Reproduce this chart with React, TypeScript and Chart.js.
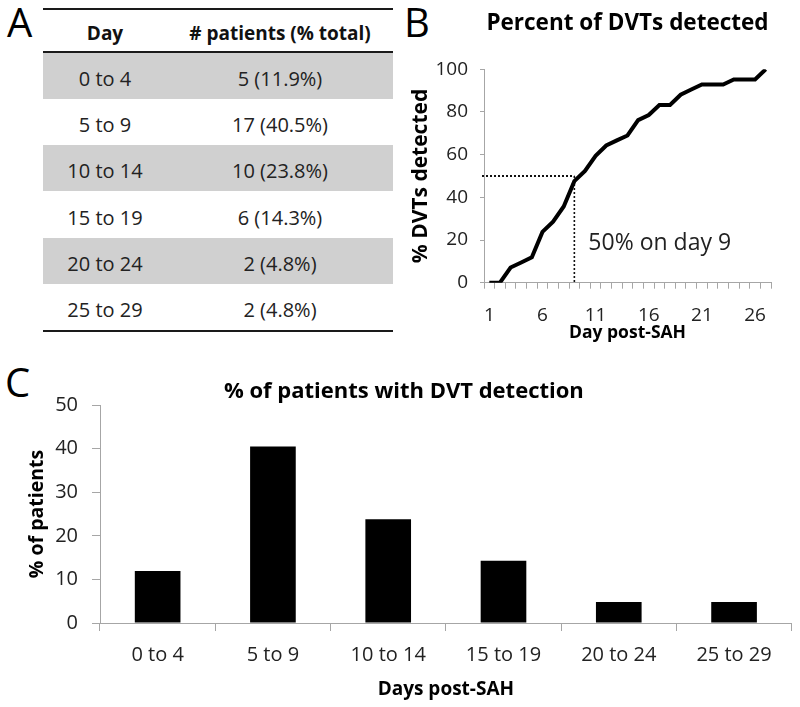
import React, { useEffect, useRef } from 'react';
import { Chart, registerables } from 'chart.js';

Chart.register(...registerables);

const FONT = "'Open Sans', sans-serif";
Chart.defaults.font.family = FONT;

// ---- Data ----
const dayRanges = ['0 to 4', '5 to 9', '10 to 14', '15 to 19', '20 to 24', '25 to 29'];
const patientCounts = [5, 17, 10, 6, 2, 2];
const patientPercents = [11.9, 40.5, 23.8, 14.3, 4.8, 4.8];
const tableHeaders = ['Day', '# patients (% total)'];

const dayCategories = ['1', '2', '3', '4', '5', '6', '7', '8', '9', '10', '11', '12', '13', '14', '15', '16', '17', '18', '19', '20', '21', '22', '23', '24', '25', '26', '27'];
const cumulativePercents = [0, 0, 7.1, 9.5, 11.9, 23.8, 28.6, 35.7, 47.6, 52.4, 59.5, 64.3, 66.7, 69.0, 76.2, 78.6, 83.3, 83.3, 88.1, 90.5, 92.9, 92.9, 92.9, 95.2, 95.2, 95.2, 100];
const lineXTickLabels = ['1', '6', '11', '16', '21', '26'];
const halfwayDay = '9';
const halfwayPercent = 50;
const annotationText = '50% on day 9';
const annotationValueY = 18.6;

const lineTitle = 'Percent of DVTs detected';
const lineYTitle = '% DVTs detected';
const lineXTitle = 'Day post-SAH';
const barTitle = '% of patients with DVT detection';
const barYTitle = '% of patients';
const barXTitle = 'Days post-SAH';

const AXIS_GRAY = '#a6a6a6';
const TEXT = '#222222';

function LineChart() {
  const ref = useRef<HTMLCanvasElement>(null);
  useEffect(() => {
    const halfIdx = dayCategories.indexOf(halfwayDay);
    const markerPlugin = {
      id: 'halfMarker',
      beforeDatasetsDraw(chart: any) {
        const { ctx, scales } = chart;
        const x = scales.x;
        const y = scales.y;
        const px = x.getPixelForValue(halfIdx);
        const py = y.getPixelForValue(halfwayPercent);
        ctx.save();
        ctx.strokeStyle = '#111';
        ctx.setLineDash([2, 2]);
        ctx.lineWidth = 2;
        ctx.beginPath();
        ctx.moveTo(x.left - 2, py);
        ctx.lineTo(px, py);
        ctx.stroke();
        ctx.lineWidth = 1.6;
        ctx.beginPath();
        ctx.moveTo(px, py);
        ctx.lineTo(px, y.bottom);
        ctx.stroke();
        ctx.restore();
      },
      afterDatasetsDraw(chart: any) {
        const { ctx, scales } = chart;
        const px = scales.x.getPixelForValue(halfIdx);
        ctx.save();
        ctx.font = `23px ${FONT}`;
        ctx.fillStyle = TEXT;
        ctx.textAlign = 'left';
        ctx.textBaseline = 'middle';
        ctx.fillText(annotationText, px + 14, scales.y.getPixelForValue(annotationValueY));
        ctx.restore();
      },
    };
    const chart = new Chart(ref.current!, {
      type: 'line',
      data: {
        labels: dayCategories,
        datasets: [
          {
            data: cumulativePercents,
            borderColor: '#000',
            borderWidth: 4,
            pointRadius: 0,
            tension: 0,
            fill: false,
          },
        ],
      },
      options: {
        responsive: false,
        animation: false,
        devicePixelRatio: 1,
        layout: { padding: { left: 0, right: 29, top: 0, bottom: 0 } },
        plugins: {
          legend: { display: false },
          tooltip: { enabled: false },
          title: {
            display: true,
            text: lineTitle,
            fullSize: false,
            color: '#000',
            font: { size: 22.5, weight: 'bold', family: FONT },
            padding: { top: 10.5, bottom: 31.8 },
          },
        },
        scales: {
          x: {
            type: 'category',
            offset: true,
            afterFit: (s: any) => { s.height = 67.3; },
            grid: { offset: true, drawOnChartArea: false, drawTicks: true, tickLength: 6, color: AXIS_GRAY },
            border: { color: AXIS_GRAY, width: 1 },
            ticks: {
              autoSkip: false,
              maxRotation: 0,
              padding: 15,
              color: TEXT,
              font: { size: 19, family: FONT },
              callback: function (this: any, _v: any, i: number) {
                const lab = dayCategories[i];
                return lineXTickLabels.includes(lab) ? lab : '';
              },
            },
            title: {
              display: true,
              text: lineXTitle,
              color: '#000',
              font: { size: 17.5, weight: 'bold', family: FONT },
              padding: { top: 0, bottom: 6.5 },
            },
          },
          y: {
            min: 0,
            max: 100,
            afterFit: (s: any) => { s.width = 84; },
            grid: { drawOnChartArea: false, drawTicks: true, tickLength: 4, color: AXIS_GRAY },
            border: { color: AXIS_GRAY, width: 1 },
            ticks: { stepSize: 20, padding: 12, color: TEXT, font: { size: 19, family: FONT } },
            title: {
              display: true,
              text: lineYTitle,
              color: '#000',
              font: { size: 21, weight: 'bold', family: FONT },
              padding: { top: 8.4, bottom: 0 },
            },
          },
        },
      },
      plugins: [markerPlugin],
    } as any);
    return () => chart.destroy();
  }, []);
  return (
    <canvas
      ref={ref}
      width={400}
      height={350}
      style={{ position: 'absolute', left: 400, top: 0, width: 400, height: 350 }}
    />
  );
}

function BarChart() {
  const ref = useRef<HTMLCanvasElement>(null);
  useEffect(() => {
    const chart = new Chart(ref.current!, {
      type: 'bar',
      data: {
        labels: dayRanges,
        datasets: [
          {
            data: patientPercents,
            backgroundColor: '#000',
            borderWidth: 0,
            categoryPercentage: 1,
            barPercentage: 0.396,
          },
        ],
      },
      options: {
        responsive: false,
        animation: false,
        devicePixelRatio: 1,
        layout: { padding: { left: 16, right: 8.3, top: 0, bottom: 0 } },
        plugins: {
          legend: { display: false },
          tooltip: { enabled: false },
          title: {
            display: true,
            text: barTitle,
            color: '#000',
            font: { size: 22, weight: 'bold', family: FONT },
            padding: { top: 18.6, bottom: 0 },
          },
        },
        scales: {
          x: {
            afterFit: (s: any) => { s.height = 84; },
            grid: { offset: true, drawOnChartArea: false, drawTicks: true, tickLength: 8, color: AXIS_GRAY },
            border: { color: AXIS_GRAY, width: 1 },
            ticks: { maxRotation: 0, padding: 12, color: TEXT, font: { size: 20, family: FONT } },
            title: {
              display: true,
              text: barXTitle,
              color: '#000',
              font: { size: 19, weight: 'bold', family: FONT },
              padding: { top: 0, bottom: 5.6 },
            },
          },
          y: {
            min: 0,
            max: 50,
            afterFit: (s: any) => { s.width = 84; },
            grid: { drawOnChartArea: false, drawTicks: true, tickLength: 8, color: AXIS_GRAY },
            border: { color: AXIS_GRAY, width: 1 },
            ticks: { stepSize: 10, padding: 14, color: TEXT, font: { size: 20, family: FONT } },
            title: {
              display: true,
              text: barYTitle,
              color: '#000',
              font: { size: 19.5, weight: 'bold', family: FONT },
              padding: { top: 9.3, bottom: 0 },
            },
          },
        },
      },
    } as any);
    return () => chart.destroy();
  }, []);
  return (
    <canvas
      ref={ref}
      width={800}
      height={347}
      style={{ position: 'absolute', left: 0, top: 360, width: 800, height: 347 }}
    />
  );
}

function DataTable() {
  const rowH = 46.17;
  const line = '2px solid #1a1a1a';
  return (
    <div style={{ position: 'absolute', left: 43, top: 8.3, width: 350, fontFamily: FONT, color: TEXT }}>
      <div
        style={{
          display: 'flex',
          borderTop: line,
          borderBottom: line,
          height: 44.7,
          alignItems: 'center',
          fontWeight: 'bold',
          fontSize: 19,
          color: '#111',
          paddingTop: 4,
          boxSizing: 'border-box',
        }}
      >
        <div style={{ width: 124, textAlign: 'center' }}>{tableHeaders[0]}</div>
        <div style={{ width: 226, textAlign: 'center' }}>{tableHeaders[1]}</div>
      </div>
      {dayRanges.map((d, i) => (
        <div
          key={d}
          style={{
            display: 'flex',
            height: rowH,
            alignItems: 'center',
            fontSize: 20,
            background: i % 2 === 0 ? '#d0d0d0' : '#ffffff',
            boxSizing: 'border-box',
            paddingTop: 5,
          }}
        >
          <div style={{ width: 124, textAlign: 'center' }}>{d}</div>
          <div style={{ width: 226, textAlign: 'center' }}>{`${patientCounts[i]} (${patientPercents[i]}%)`}</div>
        </div>
      ))}
      <div style={{ borderTop: line }} />
    </div>
  );
}

const letterStyle: React.CSSProperties = {
  position: 'absolute',
  fontFamily: FONT,
  fontSize: 40,
  lineHeight: '40px',
  color: '#000',
};

export default function App() {
  return (
    <div style={{ position: 'absolute', left: 0, top: 0, width: 800, height: 707, background: '#fff', overflow: 'hidden' }}>
      <div style={{ ...letterStyle, left: 7, top: 1.5 }}>A</div>
      <div style={{ ...letterStyle, left: 404, top: 1.5 }}>B</div>
      <div style={{ ...letterStyle, left: 5, top: 361.5 }}>C</div>
      <DataTable />
      <LineChart />
      <BarChart />
    </div>
  );
}
